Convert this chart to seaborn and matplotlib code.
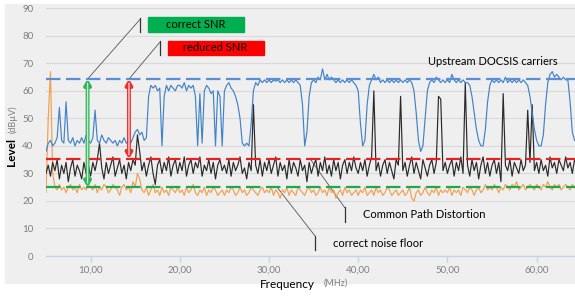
import numpy as np
import pandas as pd
import seaborn as sns
import matplotlib.pyplot as plt
from matplotlib.patches import Rectangle

# frequency grid (MHz), 0.25 MHz steps
freq = np.arange(5.0, 64.5 + 0.001, 0.25)

# upstream DOCSIS carriers (dBuV)
docsis = [
    38, 41, 42, 40, 41, 43, 54, 42, 41, 56, 42, 41, 43, 40, 42, 41, 43, 41, 44, 42,
    41, 43, 53, 42, 41, 44, 42, 41, 43, 42, 41, 42, 40, 42, 41, 43, 41, 42, 41, 43,
    45, 46, 44, 45, 42, 43, 58, 62, 61, 62, 60, 61, 40, 58, 62, 60, 62, 61, 60, 62,
    62, 61, 63, 60, 62, 61, 62, 58, 40, 59, 41, 60, 62, 61, 59, 60, 40, 60, 58, 40,
    60, 62, 63, 61, 60, 58, 55, 50, 41, 40, 41, 40, 48, 60, 63, 62, 64, 63, 64, 63,
    64, 63, 64, 63.5, 64, 63, 64, 63, 64, 63, 64, 63, 64, 63, 62, 55, 40, 45, 58, 63,
    64, 63, 65, 64, 68, 64, 66, 64, 65, 64, 63, 64, 63, 64, 63, 64, 63, 64, 63, 62,
    60, 48, 40, 42, 55, 62, 64, 66, 64, 65, 63, 64, 63, 64, 63, 64, 63, 64, 63, 64,
    63, 64, 63, 64, 63, 60, 52, 42, 38, 40, 50, 60, 63, 64, 63, 65, 64, 63, 64, 63,
    64, 63, 66, 64, 63, 64, 63, 64, 63, 63, 62, 58, 52, 46, 42, 40, 40, 46, 56, 62,
    64, 63, 64, 63, 64, 63, 65, 63, 64, 63, 64, 63, 64, 63, 64, 63, 62, 58, 52, 46,
    42, 40, 40, 44, 55, 63, 66, 67, 65, 66, 65, 64, 65, 64, 64, 56, 45, 42, 42,
]

# common path distortion
cpd = [
    30, 33, 29, 34, 31, 35, 28, 33, 30, 34, 27, 32, 35, 29, 33, 31, 28, 34, 30, 33,
    29, 34, 31, 35, 41, 32, 28, 34, 30, 33, 36, 29, 32, 35, 30, 33, 28, 34, 31, 35,
    33, 44, 38, 31, 34, 29, 33, 36, 30, 26, 33, 35, 30, 34, 31, 36, 29, 33, 35, 30,
    34, 31, 36, 29, 33, 35, 30, 34, 32, 36, 29, 33, 31, 35, 30, 34, 28, 33, 35, 31,
    33, 30, 35, 29, 34, 31, 33, 36, 30, 32, 28, 34, 31, 55, 33, 30, 35, 29, 34, 31,
    35, 30, 33, 36, 29, 34, 31, 33, 28, 35, 30, 34, 32, 29, 35, 31, 33, 27, 34, 30,
    33, 35, 29, 34, 31, 36, 30, 33, 29, 35, 31, 34, 28, 33, 35, 30, 34, 31, 36, 32,
    30, 34, 31, 35, 29, 33, 36, 60, 31, 34, 29, 33, 35, 30, 34, 31, 28, 35, 33, 58,
    31, 34, 29, 33, 36, 30, 34, 31, 28, 35, 32, 29, 33, 35, 30, 34, 58, 57, 31, 34,
    30, 33, 35, 29, 34, 31, 36, 30, 63, 33, 29, 35, 31, 34, 28, 33, 36, 30, 34, 29,
    33, 35, 30, 34, 27, 59, 33, 31, 35, 29, 34, 32, 30, 35, 31, 33, 53, 34, 55, 31,
    34, 30, 35, 31, 33, 29, 36, 32, 34, 30, 35, 33, 31, 36, 32, 34, 30, 35, 33,
]

# noise floor
noise = [
    23, 50, 67, 30, 25, 24, 26, 24, 25, 23, 25, 26, 24, 25, 23, 26, 24, 25, 24, 26,
    25, 24, 26, 23, 25, 24, 26, 25, 23, 24, 26, 25, 24, 22, 25, 26, 24, 25, 23, 27,
    25, 30, 28, 24, 23, 25, 22, 24, 26, 23, 24, 22, 25, 23, 24, 22, 25, 24, 23, 25,
    23, 24, 22, 25, 23, 24, 26, 23, 22, 24, 23, 25, 22, 24, 23, 25, 24, 22, 23, 24,
    22, 24, 23, 25, 24, 22, 23, 25, 23, 24, 22, 23, 25, 24, 23, 22, 24, 25, 23, 24,
    23, 25, 22, 24, 23, 21, 24, 23, 25, 22, 24, 23, 22, 25, 24, 23, 22, 24, 25, 23,
    24, 22, 23, 25, 23, 24, 22, 25, 23, 24, 21, 23, 24, 22, 25, 23, 24, 22, 23, 24,
    22, 24, 23, 25, 22, 23, 24, 22, 25, 23, 24, 22, 23, 25, 24, 22, 23, 24, 22, 23,
    24, 22, 23, 25, 21, 20, 23, 24, 22, 23, 25, 23, 22, 24, 23, 25, 22, 24, 23, 24,
    23, 25, 22, 24, 23, 24, 22, 25, 24, 23, 25, 24, 22, 24, 25, 23, 24, 26, 24, 25,
    24, 26, 25, 23, 25, 24, 26, 25, 24, 26, 25, 27, 24, 25, 26, 24, 25, 26, 25, 24,
    26, 25, 24, 26, 25, 27, 25, 24, 26, 25, 26, 24, 25, 26, 25, 24, 26, 25, 24,
]

# reference levels
carrier_level = 64.3
cpd_level = 35.3
floor_level = 25.0
good_snr_freq = 9.66
bad_snr_freq = 14.3
x_ticks = [10, 20, 30, 40, 50, 60]
x_ticklabels = ["10,00", "20,00", "30,00", "40,00", "50,00", "60,00"]
y_ticks = [0, 10, 20, 30, 40, 50, 60, 70, 80, 90]

df = pd.DataFrame({
    "freq": np.concatenate([freq, freq, freq]),
    "level": np.concatenate([noise, cpd, docsis]),
    "series": ["noise"] * len(freq) + ["cpd"] * len(freq) + ["docsis"] * len(freq),
})

plt.rcParams["font.family"] = ["Lato", "DejaVu Sans"]

fig = plt.figure(figsize=(5.75, 2.96), dpi=100)
fig.patch.set_facecolor("white")
fig.patches.append(Rectangle((5 / 575, 13 / 296), 570 / 575, 279 / 296,
                             transform=fig.transFigure, color="#efefef", zorder=-10))

ax = fig.add_axes([46 / 575, 40 / 296, 529 / 575, 247.7 / 296])
ax.set_facecolor("#efefef")

sns.lineplot(data=df, x="freq", y="level", hue="series",
             palette={"noise": "#f0a050", "cpd": "#2a2a2a", "docsis": "#4282c8"},
             linewidth=0.85, legend=False, ax=ax, zorder=3)

# dashed reference levels
ax.axhline(carrier_level, color="#5b8ed6", lw=1.6, dashes=(6.5, 2.5), zorder=4)
ax.axhline(cpd_level, color="#e82020", lw=1.6, dashes=(6.5, 2.5), zorder=4)
ax.axhline(floor_level, color="#1fa84a", lw=1.6, dashes=(6.5, 2.5), zorder=4)

# SNR arrows
for xf, y0, edge, fill in [(good_snr_freq, floor_level, "#2db35a", "#c4ecc9"),
                           (bad_snr_freq, cpd_level, "#e83030", "#f8cccc")]:
    ax.annotate("", xy=(xf, carrier_level), xytext=(xf, y0),
                arrowprops=dict(arrowstyle="<|-|>,head_length=0.3,head_width=0.18",
                                color=edge, lw=2.8, shrinkA=0, shrinkB=0), zorder=5)
    ax.annotate("", xy=(xf, carrier_level - 1.5), xytext=(xf, y0 + 1.5),
                arrowprops=dict(arrowstyle="-", color=fill, lw=1.0,
                                shrinkA=0, shrinkB=0), zorder=6)

# label boxes with leader lines
ax.add_patch(Rectangle((16.39, 81.5), 10.76, 5.4, color="#00b050", clip_on=False, zorder=6))
ax.text(21.77, 84.2, "correct SNR", ha="center", va="center", fontsize=8, zorder=7)
ax.plot([15.49, 15.49], [81.5, 86.5], color="#333333", lw=0.9, clip_on=False)
ax.plot([15.49, good_snr_freq], [85.8, carrier_level], color="#555555", lw=0.6)

ax.add_patch(Rectangle((18.63, 73.1), 10.77, 5.1, color="#ff0000", clip_on=False, zorder=6))
ax.text(24.0, 75.6, "reduced SNR", ha="center", va="center", fontsize=8, zorder=7)
ax.plot([17.74, 17.74], [73.1, 78.2], color="#333333", lw=0.9)
ax.plot([17.74, bad_snr_freq], [77.6, carrier_level], color="#555555", lw=0.6)

ax.text(47.8, 70.5, "Upstream DOCSIS carriers", ha="left", va="center", fontsize=8)

ax.plot([38.48, 38.48], [12.4, 17.8], color="#333333", lw=0.9)
ax.plot([34.6, 38.48], [cpd_level, 17.6], color="#555555", lw=0.6)
ax.text(40.5, 15.2, "Common Path Distortion", ha="left", va="center", fontsize=8)

ax.plot([35.2, 35.2], [2.2, 7.3], color="#333333", lw=0.9)
ax.plot([30.9, 35.2], [floor_level, 7.1], color="#555555", lw=0.6)
ax.text(37.2, 4.4, "correct noise floor", ha="left", va="center", fontsize=8)

# axes styling
ax.set_xlim(5, 64.3)
ax.set_ylim(0, 90)
ax.set_xticks(x_ticks)
ax.set_xticklabels(x_ticklabels)
ax.set_yticks(y_ticks)
ax.tick_params(axis="x", colors="#c5d3e6", labelcolor="#7f7f7f", labelsize=7,
               length=4, width=1, pad=3)
ax.tick_params(axis="y", length=0, labelcolor="#7f7f7f", labelsize=7, pad=9)
ax.grid(axis="y", color="#d9d9d9", lw=0.8)
ax.set_axisbelow(True)
for side in ["top", "right", "left"]:
    ax.spines[side].set_visible(False)
ax.spines["bottom"].set_color("#c5d3e6")
ax.spines["bottom"].set_linewidth(1)
ax.set_xlabel("")
ax.set_ylabel("")

fig.text(12 / 575, 1 - 152 / 296, "Level", rotation=90, ha="center", va="center",
         fontsize=8.5, fontweight="bold")
fig.text(13 / 575, 1 - 119 / 296, "(dBµV)", rotation=90, ha="center", va="center",
         fontsize=6.5, color="#7f7f7f")
fig.text(287 / 575, 1 - 285 / 296, "Frequency", ha="center", va="center", fontsize=8.5)
fig.text(336 / 575, 1 - 283 / 296, "(MHz)", ha="center", va="center", fontsize=6.5,
         color="#7f7f7f")

fig.savefig("out.png", dpi=100)
